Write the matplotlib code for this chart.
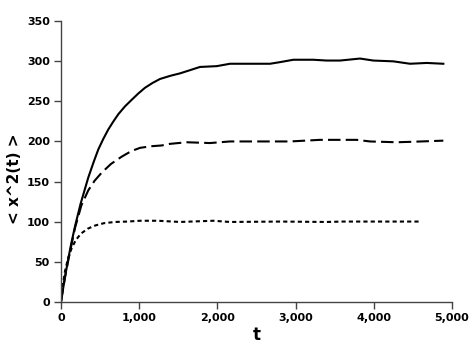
import matplotlib
matplotlib.use("Agg")
import matplotlib.pyplot as plt
from matplotlib.ticker import FuncFormatter

# values
t_solid = [0, 50, 94, 130, 179, 250, 349, 420, 477, 540, 605, 670, 733, 820, 904,
           990, 1074, 1170, 1266, 1400, 1522, 1650, 1777, 1991, 2161,
           2545, 2673, 2800, 2971, 3227, 3397, 3568, 3824, 3994, 4250, 4463, 4677, 4889]
x2_solid = [0, 30, 54, 72, 94, 122, 155, 175, 190, 203, 215, 225, 234, 244, 252,
            260, 267, 273, 278, 282, 285, 289, 293, 294, 297,
            297, 297, 299, 302, 302, 301, 301, 303.5, 301, 300, 297, 298, 297]

t_dashed = [0, 50, 100, 179, 260, 349, 430, 520, 640, 776, 900, 1010, 1150, 1288,
            1394, 1607, 1905, 2161, 2929, 3312, 3781, 3951, 4293, 4463, 4889]
x2_dashed = [0, 30, 55, 92, 120, 139, 151, 161, 172, 181, 188, 192, 194, 195,
             197, 199, 198, 200, 200, 202, 202, 200, 199, 199.5, 201]

t_dotted = [0, 25, 51, 90, 137, 190, 256, 340, 435, 550, 690, 850, 1010, 1240,
            1522, 1948, 2161, 2800, 3397, 3600, 4200, 4612]
x2_dotted = [0, 22, 38, 54, 67, 77, 85, 91, 95, 98, 99.5, 100, 101, 101,
             99.5, 101, 99.5, 100, 99.5, 100, 100, 100]

fig = plt.figure(figsize=(4.71, 3.52), dpi=100)
ax = fig.add_axes([0.1295, 0.143, 0.8302, 0.7965])

ax.plot(t_solid, x2_solid, color="black", lw=1.5, linestyle="-")
ax.plot(t_dashed, x2_dashed, color="black", lw=1.5, linestyle=(0, (6, 2.5)))
ax.plot(t_dotted, x2_dotted, color="black", lw=1.5, linestyle=(0, (2, 1.5)))

ax.set_xlim(0, 5000)
ax.set_ylim(0, 350)
ax.set_xticks([0, 1000, 2000, 3000, 4000, 5000])
ax.set_yticks(range(0, 351, 50))
ax.xaxis.set_major_formatter(FuncFormatter(lambda v, p: f"{int(v):,}"))

for side in ["top", "right"]:
    ax.spines[side].set_visible(False)
for side in ["left", "bottom"]:
    ax.spines[side].set_color("#444444")
    ax.spines[side].set_linewidth(1.0)

ax.tick_params(axis="both", direction="out", length=5, width=1, color="#444444",
               labelsize=8, pad=3)
for lab in ax.get_xticklabels() + ax.get_yticklabels():
    lab.set_fontweight("bold")

ax.set_xlabel("t", fontsize=12, fontweight="bold", labelpad=2)
ax.set_ylabel("< x^2(t) >", fontsize=11, fontweight="bold", labelpad=8)
ax.yaxis.set_label_coords(-0.1, 0.44)

fig.savefig("out.png", dpi=100)
